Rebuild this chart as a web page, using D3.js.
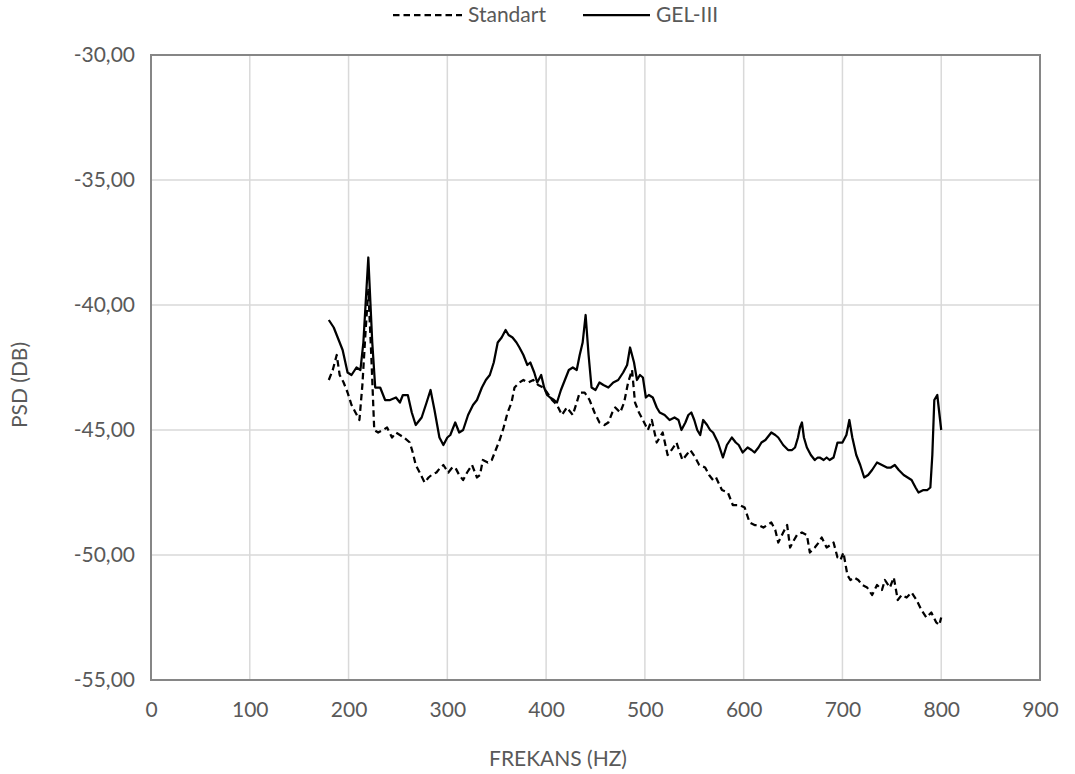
<!DOCTYPE html>
<html>
<head>
<meta charset="utf-8">
<script src="https://cdn.jsdelivr.net/npm/d3@7"></script>
<style>
  html, body { margin: 0; padding: 0; background: #fff; }
  svg { display: block; }
  text { font-family: Lato, "Open Sans", sans-serif; fill: #595959; }
</style>
</head>
<body>
<svg id="chart" width="1075" height="774"></svg>
<script>
const xTicks = [0, 100, 200, 300, 400, 500, 600, 700, 800, 900];
const yTicks = [-55, -50, -45, -40, -35, -30];
const seriesNames = ["Standart", "GEL-III"];

const standartFreq = [180,184,188,191,195,199,203,207,211,214,217,220,223,226,230,235,239,244,248,252,256,262,265,268,272,277,281,284,289,293,296,301,305,308,312,316,320,325,330,333,336,341,345,349,353,357,361,365,368,373,377,382,387,392,397,401,406,411,416,421,427,431,434,439,444,449,454,459,463,467,470,475,479,483,487,490,494,498,503,507,512,518,523,527,532,538,542,546,551,555,561,565,569,572,578,584,589,596,601,606,611,615,620,624,628,632,635,640,644,647,651,654,659,664,667,672,676,679,684,688,691,695,698,701,705,708,712,716,720,725,730,735,740,743,748,752,756,760,765,770,775,780,785,790,795,798,800];
const standartPsd = [-43.0,-42.6,-42.0,-42.8,-43.1,-43.5,-44.0,-44.3,-44.6,-43.2,-41.2,-39.4,-42.0,-45.0,-45.1,-45.0,-44.9,-45.3,-45.1,-45.2,-45.3,-45.5,-45.9,-46.4,-46.7,-47.1,-46.9,-46.8,-46.7,-46.5,-46.4,-46.7,-46.5,-46.5,-46.8,-47.0,-46.7,-46.4,-46.9,-46.8,-46.2,-46.3,-46.2,-45.8,-45.4,-44.9,-44.3,-43.9,-43.3,-43.1,-43.0,-43.1,-43.0,-43.2,-43.3,-43.5,-43.8,-44.0,-44.4,-44.1,-44.4,-43.9,-43.5,-43.5,-43.8,-44.3,-44.7,-44.8,-44.7,-44.3,-44.1,-44.3,-43.9,-43.1,-42.6,-43.9,-44.3,-44.6,-45.0,-44.6,-45.5,-45.1,-46.0,-45.8,-45.5,-46.2,-46.0,-45.8,-46.1,-46.4,-46.5,-46.8,-47.0,-46.9,-47.4,-47.5,-48.0,-48.0,-48.1,-48.7,-48.8,-48.8,-48.9,-48.8,-48.7,-49.0,-49.5,-49.1,-48.8,-49.7,-49.4,-49.2,-49.1,-49.2,-49.9,-49.7,-49.5,-49.3,-49.7,-49.6,-49.5,-50.1,-50.2,-49.9,-50.8,-51.0,-50.9,-51.0,-51.2,-51.3,-51.6,-51.2,-51.4,-51.0,-51.3,-50.9,-51.8,-51.6,-51.7,-51.5,-51.8,-52.2,-52.5,-52.3,-52.7,-52.8,-52.5];

const gelFreq = [180,185,190,194,199,203,208,212,215,220,224,227,232,237,242,248,252,255,260,264,268,274,279,283,287,292,296,300,303,308,312,316,321,326,330,335,339,343,347,351,355,359,362,366,370,373,377,381,384,388,391,395,398,401,404,408,411,415,419,423,427,431,434,437,440,443,446,450,454,458,463,468,473,478,482,485,489,492,495,498,501,504,508,512,515,520,525,530,534,537,541,544,547,550,553,556,559,563,566,569,574,579,583,588,592,595,599,604,608,611,615,618,622,628,632,635,640,645,649,652,655,657,659,661,664,668,672,675,677,681,684,687,691,695,700,704,707,710,714,718,722,726,730,735,740,745,749,753,757,762,766,770,774,777,782,786,789,791,793,796,800];
const gelPsd = [-40.6,-40.9,-41.4,-41.8,-42.7,-42.8,-42.5,-42.6,-41.5,-38.1,-41.5,-43.3,-43.3,-43.8,-43.8,-43.7,-43.9,-43.6,-43.6,-44.3,-44.8,-44.5,-43.9,-43.4,-44.2,-45.3,-45.6,-45.3,-45.2,-44.7,-45.1,-45.0,-44.4,-44.0,-43.8,-43.3,-43.0,-42.8,-42.3,-41.5,-41.3,-41.0,-41.2,-41.3,-41.5,-41.7,-42.0,-42.4,-42.3,-42.7,-43.1,-42.8,-43.3,-43.6,-43.7,-43.8,-43.9,-43.4,-43.0,-42.6,-42.5,-42.6,-42.0,-41.5,-40.4,-42.0,-43.3,-43.4,-43.1,-43.2,-43.3,-43.1,-43.0,-42.7,-42.4,-41.7,-42.3,-43.0,-42.8,-42.9,-43.7,-43.6,-43.7,-44.1,-44.3,-44.4,-44.6,-44.5,-44.6,-45.0,-44.7,-44.4,-44.3,-44.6,-45.0,-45.2,-44.6,-44.8,-45.0,-45.1,-45.5,-46.1,-45.6,-45.3,-45.5,-45.6,-45.9,-45.7,-45.8,-45.9,-45.7,-45.5,-45.4,-45.1,-45.2,-45.3,-45.6,-45.8,-45.8,-45.7,-45.3,-44.9,-44.7,-45.3,-45.7,-46.0,-46.2,-46.1,-46.1,-46.2,-46.1,-46.2,-46.1,-45.5,-45.5,-45.2,-44.6,-45.3,-46.0,-46.4,-46.9,-46.8,-46.6,-46.3,-46.4,-46.5,-46.5,-46.4,-46.6,-46.8,-46.9,-47.0,-47.3,-47.5,-47.4,-47.4,-47.3,-46.0,-43.8,-43.6,-45.0];

const standart = standartFreq.map((f, i) => ({ x: f, y: standartPsd[i] }));
const gel = gelFreq.map((f, i) => ({ x: f, y: gelPsd[i] }));

const svg = d3.select("#chart");
const plotL = 151, plotR = 1040, plotT = 55, plotB = 680;
const fontSize = "21px";
const fontFam = "Lato, 'Open Sans', sans-serif";

const x = d3.scaleLinear().domain([0, 900]).range([plotL, plotR]);
const y = d3.scaleLinear().domain([-55, -30]).range([plotB, plotT]);

const loc = d3.formatLocale({ decimal: ",", thousands: ".", grouping: [3], currency: ["", ""], minus: "-" });
const yFmt = loc.format(".2f");

// gridlines
svg.append("g").selectAll("line").data(xTicks).join("line")
  .attr("x1", d => x(d)).attr("x2", d => x(d))
  .attr("y1", plotT).attr("y2", plotB)
  .attr("stroke", "#d9d9d9").attr("stroke-width", 1.5);
svg.append("g").selectAll("line").data(yTicks).join("line")
  .attr("x1", plotL).attr("x2", plotR)
  .attr("y1", d => y(d)).attr("y2", d => y(d))
  .attr("stroke", "#d9d9d9").attr("stroke-width", 1.5);

// plot border
svg.append("rect")
  .attr("x", plotL).attr("y", plotT)
  .attr("width", plotR - plotL).attr("height", plotB - plotT)
  .attr("fill", "none").attr("stroke", "#868686").attr("stroke-width", 2);

// axes (labels only)
const xAxis = d3.axisBottom(x).tickValues(xTicks).tickSize(0).tickPadding(22);
const gx = svg.append("g").attr("transform", `translate(0,${plotB})`).call(xAxis);
gx.select(".domain").remove();
gx.selectAll("text").style("font-size", fontSize).attr("fill", "#595959").style("font-family", fontFam);

const yAxis = d3.axisLeft(y).tickValues(yTicks).tickFormat(yFmt).tickSize(0).tickPadding(16);
const gy = svg.append("g").attr("transform", `translate(${plotL},0)`).call(yAxis);
gy.select(".domain").remove();
gy.selectAll("text").style("font-size", fontSize).attr("fill", "#595959").style("font-family", fontFam);

// lines
const line = d3.line().x(d => x(d.x)).y(d => y(d.y));
svg.append("path").datum(standart)
  .attr("d", line).attr("fill", "none")
  .attr("stroke", "#000").attr("stroke-width", 2.25)
  .attr("stroke-dasharray", "6.5,4").attr("stroke-linejoin", "round");
svg.append("path").datum(gel)
  .attr("d", line).attr("fill", "none")
  .attr("stroke", "#000").attr("stroke-width", 2.25)
  .attr("stroke-linejoin", "round");

// axis titles
svg.append("text").attr("x", 558).attr("y", 766)
  .attr("text-anchor", "middle").style("font-size", fontSize).text("FREKANS (HZ)");
svg.append("text").attr("transform", "translate(27,385) rotate(-90)")
  .attr("text-anchor", "middle").style("font-size", fontSize).text("PSD (DB)");

// legend
const legend = svg.append("g");
const legItems = [
  { name: seriesNames[0], x1: 393, x2: 462, tx: 468, dash: "6.5,4" },
  { name: seriesNames[1], x1: 583, x2: 650, tx: 656, dash: null }
];
legItems.forEach(it => {
  legend.append("line").attr("x1", it.x1).attr("x2", it.x2).attr("y1", 15).attr("y2", 15)
    .attr("stroke", "#000").attr("stroke-width", 2.25)
    .attr("stroke-dasharray", it.dash);
  legend.append("text").attr("x", it.tx).attr("y", 22).style("font-size", fontSize).text(it.name);
});
</script>
</body>
</html>
